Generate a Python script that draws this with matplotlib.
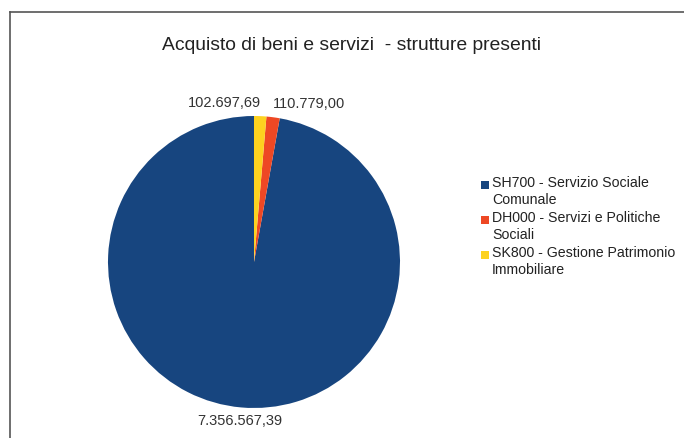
import matplotlib.pyplot as plt
from matplotlib.patches import Rectangle
from matplotlib.lines import Line2D

plt.rcParams['font.family'] = ['Liberation Sans', 'DejaVu Sans']

# data, in legend order
labels = ["SH700 - Servizio Sociale\nComunale",
          "DH000 - Servizi e Politiche\nSociali",
          "SK800 - Gestione Patrimonio\nImmobiliare"]
values = [7356567.39, 110779.00, 102697.69]
colors = ["#17457f", "#ee4824", "#fdd21f"]

def fmt_it(v):
    s = "{:,.2f}".format(v)
    return s.replace(",", "X").replace(".", ",").replace("X", ".")

W, H = 684, 438
fig = plt.figure(figsize=(W/100, H/100), dpi=100)

# frame of the chart area (only top and left visible)
fig.add_artist(Line2D([10/W, 10/W], [0, 1 - 12/H], color="#555555", lw=1.2))
fig.add_artist(Line2D([10/W, 1], [1 - 12/H, 1 - 12/H], color="#555555", lw=1.2))

ax = fig.add_axes([108/W, 30/H, 292/W, 292/H])
wedges, texts = ax.pie(values, colors=colors, startangle=90, counterclock=True,
                       labels=[fmt_it(v) for v in values], labeldistance=1.09,
                       textprops=dict(fontsize=10.5, color="#333333"),
                       wedgeprops=dict(linewidth=0))
# place value labels like the original layout
texts[0].set_ha("center")
texts[1].set_ha("left")
texts[1].set_x(texts[1].get_position()[0] - 0.015)
texts[2].set_ha("right")
ax.set_xlim(-1, 1)
ax.set_ylim(-1, 1)
ax.set_aspect("equal")

fig.text(351/W, 1 - 45/H, "Acquisto di beni e servizi  - strutture presenti",
         ha="center", va="center", fontsize=13.9, color="#222222")

# legend drawn by hand: square aligned with the first line of each entry
for i, (lab, c) in enumerate(zip(labels, colors)):
    y = 185 + 35 * i
    fig.add_artist(Rectangle((481/W, 1 - (y + 4)/H), 8/W, 8/H,
                             transform=fig.transFigure, facecolor=c, edgecolor="none"))
    fig.text(492/W, 1 - (y - 9)/H, lab, ha="left", va="top", fontsize=10.2,
             color="#222222", linespacing=1.23)

fig.savefig("out.png", dpi=100)
